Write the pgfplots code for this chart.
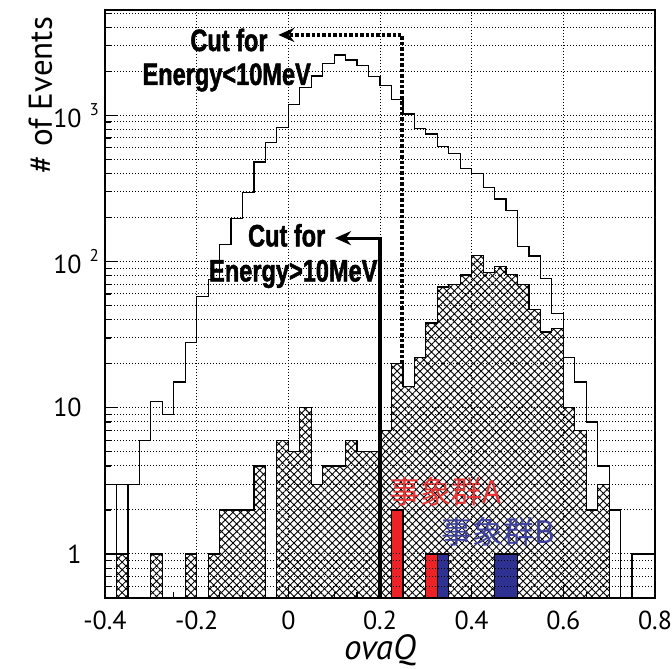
\documentclass[border=0pt]{standalone}
\usepackage{fontspec}
\setmainfont{PT Sans}
\newfontfamily\cutfont[FakeStretch=0.76,FakeBold=1.5]{Liberation Sans}
\newfontfamily\cjk{Noto Sans CJK JP}
\usepackage{pgfplots}
\usepackage{pgfplotstable}
\pgfplotsset{compat=1.18}
\usetikzlibrary{patterns.meta,arrows.meta}

\definecolor{evA}{RGB}{236,34,39}
\definecolor{evB}{RGB}{46,49,146}
\definecolor{txtA}{RGB}{232,52,52}
\definecolor{txtB}{RGB}{62,66,158}

% all events: left bin edge, entries (0.1 = empty bin, below the axis)
\pgfplotstableread{
x y
-0.4 0.1
-0.4 3
-0.375 3
-0.35 3
-0.325 6
-0.3 11
-0.275 9
-0.25 15
-0.225 28
-0.2 58
-0.175 75
-0.15 131
-0.125 198
-0.1 296
-0.075 480
-0.05 650
-0.025 824
0 1189
0.025 1556
0.05 1859
0.075 2270
0.1 2588
0.125 2392
0.15 2187
0.175 1840
0.2 1600
0.225 1280
0.25 1020
0.275 815
0.3 745
0.325 610
0.35 545
0.375 435
0.4 400
0.425 320
0.45 268
0.475 222
0.5 127
0.525 109
0.55 77
0.575 44
0.6 22
0.625 15
0.65 8
0.675 4
0.7 2
0.725 0.1
0.75 1
0.775 1
0.8 1
0.8 0.1
}\alldata

% high-energy events (hatched)
\pgfplotstableread{
x y
-0.4 0.1
-0.375 1
-0.35 0.1
-0.325 0.1
-0.3 1
-0.275 0.1
-0.25 0.1
-0.225 1
-0.2 0.1
-0.175 1
-0.15 2
-0.125 2
-0.1 2
-0.075 4
-0.05 0.1
-0.025 6
0 5
0.025 10
0.05 3
0.075 4
0.1 4
0.125 6
0.15 5
0.175 5
0.2 7
0.225 20
0.25 14
0.275 22
0.3 38
0.325 67
0.35 70
0.375 81
0.4 110
0.425 84
0.45 92
0.475 82
0.5 70
0.525 47
0.55 33
0.575 35
0.6 10
0.625 7
0.65 2
0.675 3
0.7 0.1
0.725 0.1
0.75 0.1
0.775 0.1
0.8 0.1
}\hidata

\begin{document}
\begin{tikzpicture}
\begin{axis}[
  scale only axis, width=275pt, height=294pt,
  xmin=-0.4, xmax=0.8,
  ymode=log, ymin=0.5, ymax=5250,
  log origin=infty,
  axis on top,
  xtick={-0.4,-0.2,0,0.2,0.4,0.6,0.8},
  xticklabels={-0.4,-0.2,0,0.2,0.4,0.6,0.8},
  minor x tick num=3,
  ytick={1,10,100,1000},
  yticklabels={1,10,
    10\rlap{\hspace{4pt}\raisebox{6pt}{\fontsize{8.5}{10}\selectfont 2}},
    10\rlap{\hspace{4pt}\raisebox{6pt}{\fontsize{8.5}{10}\selectfont 3}}},
  minor ytick={0.6,0.7,0.8,0.9,2,3,4,5,6,7,8,9,20,30,40,50,60,70,80,90,
               200,300,400,500,600,700,800,900,2000,3000,4000,5000},
  xtick pos=bottom, ytick pos=left,
  tick align=inside,
  major tick length=6pt, minor tick length=3pt,
  tick style={black, line width=0.6pt},
  xmajorgrids, ymajorgrids, yminorgrids,
  grid style={black, line width=0.5pt, dash pattern=on 0.7pt off 0.8pt},
  axis line style={line width=1.4pt},
  tick label style={font=\fontsize{13}{15}\selectfont},
  xticklabel style={inner sep=0pt, yshift=-6.5pt},
  yticklabel style={inner sep=0pt, xshift=-11.5pt},
  xlabel={\textit{ovaQ}},
  xlabel style={at={(axis description cs:0.5,0)}, anchor=base, yshift=-31pt,
                font=\fontsize{17.5}{20}\selectfont},
  ylabel={\# of Events},
  ylabel style={at={(axis description cs:-0.0964,1)}, anchor=base east,
                font=\fontsize{16.5}{19}\selectfont},
]
% all events
\addplot[const plot mark left, black, line width=0.6pt] table[x=x,y=y] {\alldata};
\addplot[ybar interval, draw=black, fill=none, line width=0.6pt]
  coordinates {(-0.375,3) (-0.35,3)};
% high-energy events
\addplot[const plot mark left, draw=black, line width=0.6pt,
  pattern={Hatch[angle=45,distance=2.7pt,line width=0.45pt]}, pattern color=black]
  table[x=x,y=y] {\hidata} -- cycle;
% event group A
\addplot[ybar interval, fill=evA, draw=black, line width=0.6pt]
  coordinates {(0.225,2) (0.25,2)};
\addplot[ybar interval, fill=evA, draw=black, line width=0.6pt]
  coordinates {(0.3,1) (0.325,1)};
% event group B
\addplot[ybar interval, fill=evB, draw=black, line width=0.6pt]
  coordinates {(0.325,1) (0.35,1)};
\addplot[ybar interval, fill=evB, draw=black, line width=0.6pt]
  coordinates {(0.45,1) (0.5,1)};
% selection cuts
\addplot[line width=1.6pt, -{Stealth[length=8pt,width=7pt]}]
  coordinates {(0.2,0.3) (0.2,144.5) (0.1018,144.5)};
\addplot[line width=2pt, dash pattern=on 1.7pt off 1pt, -{Stealth[length=8pt,width=7pt]}]
  coordinates {(0.248,20) (0.248,3545) (-0.0219,3545)};
\node[font=\fontsize{15.5}{18}\cutfont\bfseries] at (axis cs:-0.1295,3275) {Cut for};
\node[font=\fontsize{15.5}{18}\cutfont\bfseries] at (axis cs:-0.1345,1816) {Energy<10MeV};
\node[font=\fontsize{15.5}{18}\cutfont\bfseries] at (axis cs:-0.0036,151) {Cut for};
\node[font=\fontsize{15.5}{18}\cutfont\bfseries] at (axis cs:0.0108,82.2) {Energy>10MeV};
\node[text=txtA, font=\fontsize{15.5}{18}\cjk] at (axis cs:0.3418,2.67) {事象群A};
\node[text=txtB, font=\fontsize{15.5}{18}\cjk] at (axis cs:0.4585,1.42) {事象群B};
\end{axis}
\pgfresetboundingbox
\path (current axis.south west) ++(-52.5pt,-35.5pt)
  rectangle ([shift={(8.5pt,5pt)}]current axis.north east);
\end{tikzpicture}
\end{document}
